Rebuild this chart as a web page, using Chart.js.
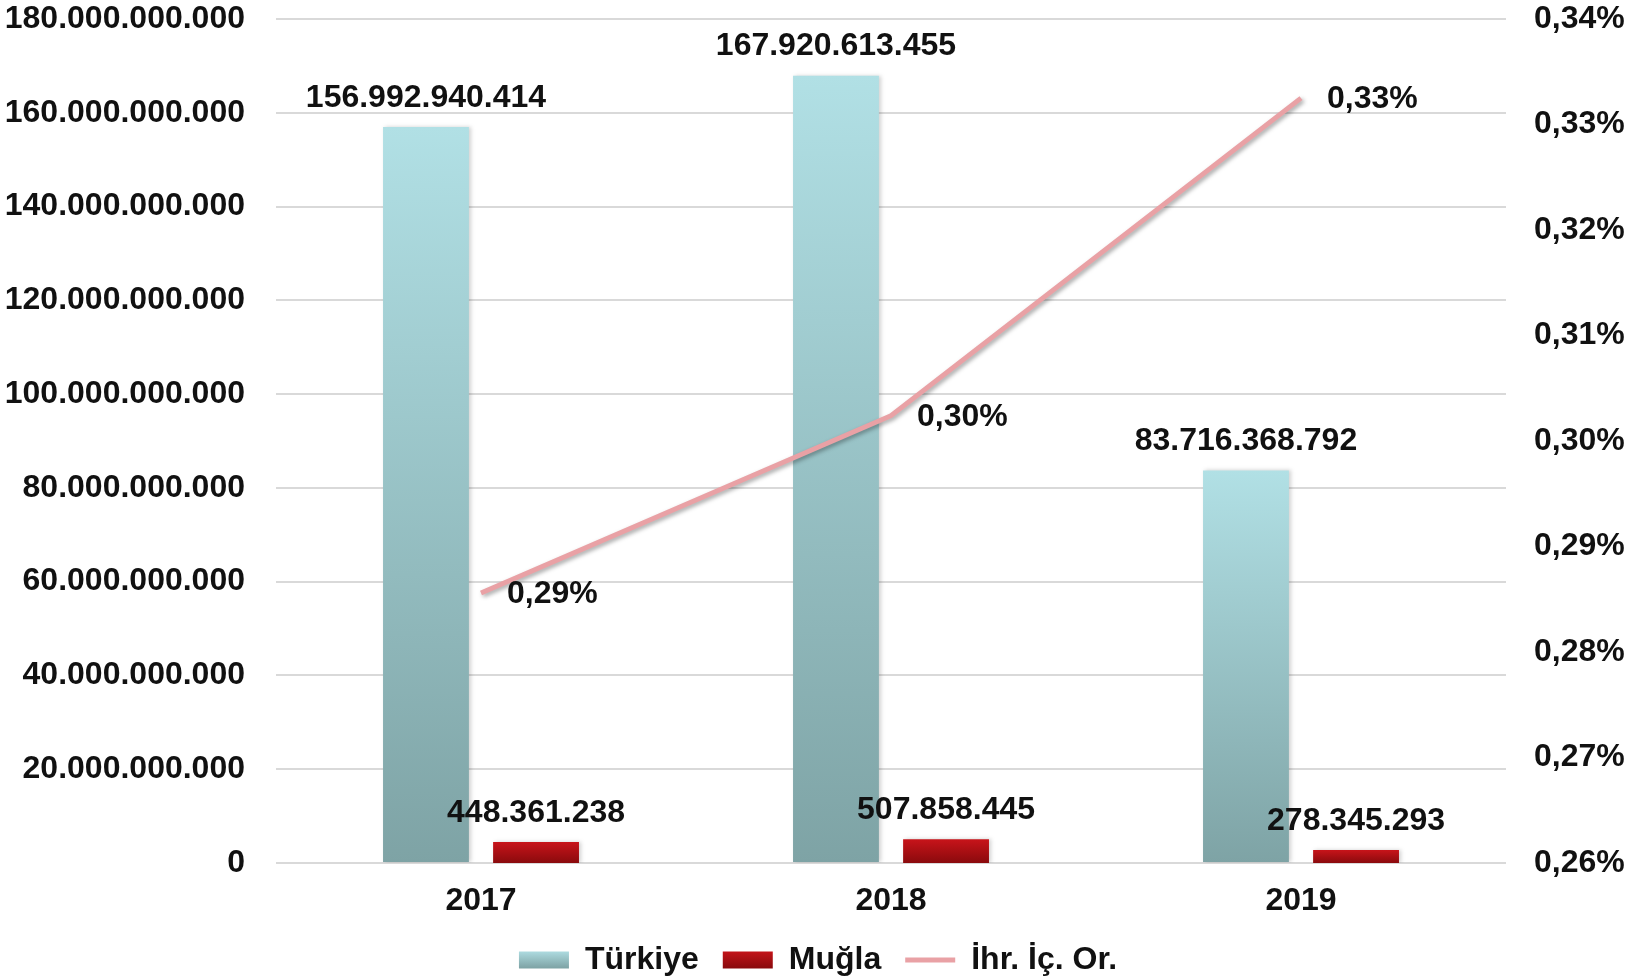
<!DOCTYPE html>
<html>
<head>
<meta charset="utf-8">
<script src="https://cdn.jsdelivr.net/npm/chart.js@4.4.1/dist/chart.umd.min.js"></script>
<style>
html,body{margin:0;padding:0;background:#fff;}
#wrap{width:1636px;height:980px;position:relative;}
</style>
</head>
<body>
<div id="wrap"><canvas id="c" width="1636" height="980"></canvas></div>
<script>
const categories = ['2017', '2018', '2019'];
const turkiyeValues = [156992940414, 167920613455, 83716368792];
const muglaValues = [448361238, 507858445, 278345293];
const ratioValues = [0.2856, 0.3024, 0.3325];
const seriesNames = ['Türkiye', 'Muğla', 'İhr. İç. Or.'];
const leftTicks = [0, 20e9, 40e9, 60e9, 80e9, 100e9, 120e9, 140e9, 160e9, 180e9];
const rightTicks = [0.26, 0.27, 0.28, 0.29, 0.30, 0.31, 0.32, 0.33, 0.34];

const FONT = "'Liberation Sans', Arial, sans-serif";
const FS = 32;

function fmtDots(v) {
  const s = Math.round(v).toString();
  return s.replace(/\B(?=(\d{3})+(?!\d))/g, '.');
}
function fmtPct(v) {
  return v.toFixed(2).replace('.', ',') + '%';
}

function vGrad(chart, top, bottom, c1, c2) {
  const g = chart.ctx.createLinearGradient(0, top, 0, bottom);
  g.addColorStop(0, c1);
  g.addColorStop(1, c2);
  return g;
}

const TK = ['#B1E0E5', '#7EA3A5'];
const MG = ['#C8141A', '#8A0A0D'];

function turkiyeColor(context) {
  const chart = context.chart;
  if (!chart.chartArea || context.dataIndex === undefined || !chart.scales.y) return '#98C6CA';
  const y = chart.scales.y;
  const v = turkiyeValues[context.dataIndex];
  return vGrad(chart, y.getPixelForValue(v), y.getPixelForValue(0), TK[0], TK[1]);
}
function muglaColor(context) {
  const chart = context.chart;
  if (!chart.chartArea || context.dataIndex === undefined || !chart.scales.ym) return '#B00F14';
  const y = chart.scales.ym;
  const v = muglaValues[context.dataIndex];
  return vGrad(chart, y.getPixelForValue(v), y.getPixelForValue(0), MG[0], MG[1]);
}

const shadowPlugin = {
  id: 'shadow',
  beforeDatasetDraw(chart, args) {
    const ctx = chart.ctx;
    ctx.save();
    if (args.meta.type === 'line') {
      ctx.shadowColor = 'rgba(0,0,0,0.35)';
      ctx.shadowBlur = 4;
      ctx.shadowOffsetX = 2;
      ctx.shadowOffsetY = 2;
    } else {
      ctx.shadowColor = 'rgba(0,0,0,0.18)';
      ctx.shadowBlur = 4;
      ctx.shadowOffsetX = 2;
      ctx.shadowOffsetY = 0;
    }
  },
  afterDatasetDraw(chart) {
    chart.ctx.restore();
  }
};

const labelPlugin = {
  id: 'valueLabels',
  afterDatasetsDraw(chart) {
    const ctx = chart.ctx;
    ctx.save();
    ctx.font = 'bold ' + FS + 'px ' + FONT;
    ctx.fillStyle = '#111';
    ctx.textBaseline = 'middle';
    chart.data.datasets.forEach((ds, di) => {
      const meta = chart.getDatasetMeta(di);
      meta.data.forEach((el, i) => {
        const v = ds.data[i];
        if (meta.type === 'bar') {
          ctx.textAlign = 'center';
          ctx.fillText(fmtDots(v), el.x, el.y - 29);
        } else {
          ctx.textAlign = 'left';
          ctx.fillText(fmtPct(v), el.x + 26, el.y + 1);
        }
      });
    });
    ctx.restore();
  }
};

function noVPad(scale) {
  scale.paddingTop = 0;
  scale.paddingBottom = 0;
}

new Chart(document.getElementById('c'), {
  data: {
    labels: categories,
    datasets: [
      {
        type: 'line',
        label: seriesNames[2],
        data: ratioValues,
        yAxisID: 'yr',
        borderColor: '#E9A1A5',
        backgroundColor: '#E9A1A5',
        borderWidth: 5,
        pointRadius: 0,
        pointHoverRadius: 0,
        pointStyle: 'line',
        tension: 0,
        order: 0
      },
      {
        type: 'bar',
        label: seriesNames[0],
        data: turkiyeValues,
        yAxisID: 'y',
        backgroundColor: turkiyeColor,
        pointStyle: 'rect',
        categoryPercentage: 0.537,
        barPercentage: 0.78,
        order: 1
      },
      {
        type: 'bar',
        label: seriesNames[1],
        data: muglaValues,
        yAxisID: 'ym',
        backgroundColor: muglaColor,
        pointStyle: 'rect',
        categoryPercentage: 0.537,
        barPercentage: 0.78,
        order: 2
      }
    ]
  },
  options: {
    responsive: false,
    animation: false,
    devicePixelRatio: 1,
    layout: { padding: { top: 19, bottom: 0, left: 0, right: 0 } },
    plugins: {
      tooltip: { enabled: false },
      legend: {
        position: 'bottom',
        maxHeight: 60,
        labels: {
          usePointStyle: true,
          pointStyleWidth: 50,
          boxHeight: 17,
          padding: 24,
          color: '#111',
          font: { family: FONT, size: FS, weight: 'bold' },
          generateLabels(chart) {
            const items = Chart.defaults.plugins.legend.labels.generateLabels(chart);
            const h = chart.height;
            items.forEach(it => {
              if (it.text === seriesNames[0]) {
                it.fillStyle = vGrad(chart, h - 30, h - 12, TK[0], TK[1]);
              } else if (it.text === seriesNames[1]) {
                it.fillStyle = vGrad(chart, h - 30, h - 12, MG[0], MG[1]);
              }
            });
            return items;
          },
          sort: (a, b) => seriesNames.indexOf(a.text) - seriesNames.indexOf(b.text)
        }
      }
    },
    scales: {
      x: {
        afterFit(scale) { scale.height = 57; },
        grid: { display: false, drawTicks: false },
        border: { display: false },
        ticks: { padding: 19, color: '#111', font: { family: FONT, size: FS, weight: 'bold' } }
      },
      y: {
        position: 'left',
        min: 0,
        max: 180e9,
        afterFit(scale) { scale.width = 276; noVPad(scale); },
        afterBuildTicks(scale) { scale.ticks = leftTicks.map(v => ({ value: v })); },
        grid: { color: '#D9D9D9', lineWidth: 2, drawTicks: false },
        border: { display: false },
        ticks: {
          padding: 31,
          color: '#111',
          font: { family: FONT, size: FS, weight: 'bold' },
          callback: (v) => fmtDots(v)
        }
      },
      ym: {
        display: false,
        min: 0,
        max: 18e9
      },
      yr: {
        position: 'right',
        min: 0.26,
        max: 0.34,
        afterFit(scale) { scale.width = 130; noVPad(scale); },
        afterBuildTicks(scale) { scale.ticks = rightTicks.map(v => ({ value: v })); },
        grid: { display: false, drawTicks: false },
        border: { display: false },
        ticks: {
          padding: 28,
          color: '#111',
          font: { family: FONT, size: FS, weight: 'bold' },
          callback: (v) => fmtPct(v)
        }
      }
    }
  },
  plugins: [shadowPlugin, labelPlugin]
});
</script>
</body>
</html>
